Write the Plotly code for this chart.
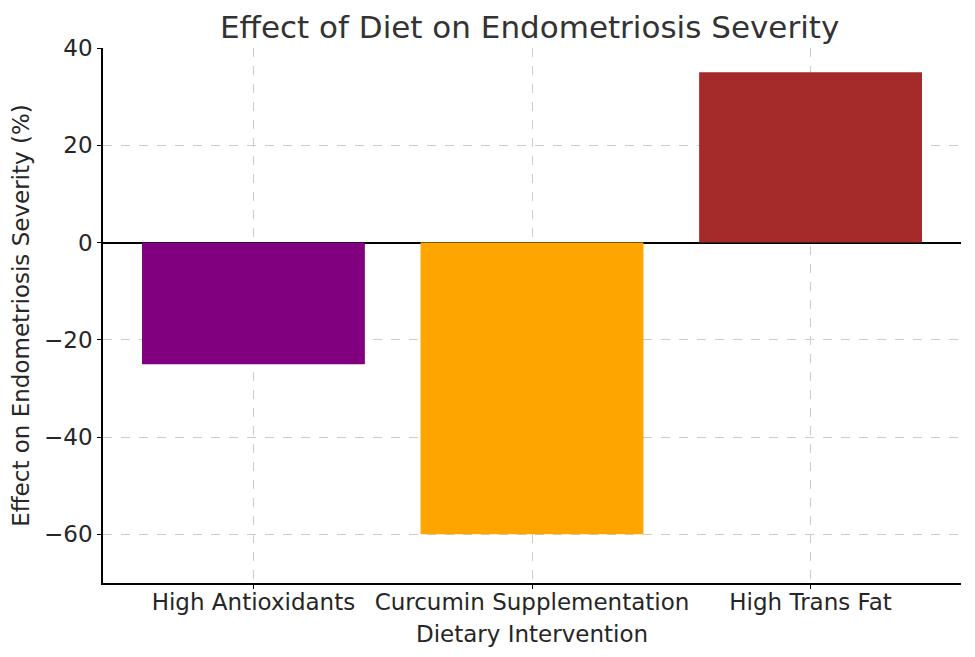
import plotly.graph_objects as go

categories = ["High Antioxidants", "Curcumin Supplementation", "High Trans Fat"]
effects = [-25, -60, 35]
colors = ["#800080", "#FFA500", "#A52A2A"]

fig = go.Figure(go.Bar(x=categories, y=effects, marker=dict(color=colors, line=dict(width=0)), width=0.8))

font = "DejaVu Sans"
fig.update_layout(
    width=975, height=657,
    margin=dict(l=92, r=22, t=40, b=82),
    paper_bgcolor="white", plot_bgcolor="white",
    font=dict(family=font, size=23, color="#262626"),
    title=dict(text="Effect of Diet on Endometriosis Severity", x=0.535, xanchor="center",
               xref="container", y=0.971, yanchor="middle", yref="container",
               font=dict(size=31, color="#333333")),
    showlegend=False,
    bargap=0.2,
)
fig.update_xaxes(
    range=[-0.54, 2.54], showline=True, linecolor="black", linewidth=1.5,
    ticks="outside", ticklen=4, tickcolor="black", tickwidth=1.2,
    ticklabelstandoff=-6,
    showgrid=True, gridcolor="#cccccc", griddash="dash", gridwidth=1,
    title=dict(text="Dietary Intervention", standoff=12, font=dict(size=23)),
    layer="above traces", mirror=False,
)
fig.update_yaxes(
    range=[-70, 40], dtick=20, showline=True, linecolor="black", linewidth=1.5,
    ticks="outside", ticklen=4, tickcolor="black", tickwidth=1.2,
    showgrid=True, gridcolor="#cccccc", griddash="dash", gridwidth=1,
    zeroline=True, zerolinecolor="black", zerolinewidth=1.5,
    title=dict(text="Effect on Endometriosis Severity (%)", standoff=8, font=dict(size=23)),
    layer="above traces", mirror=False,
)
fig.write_html("out.html")
